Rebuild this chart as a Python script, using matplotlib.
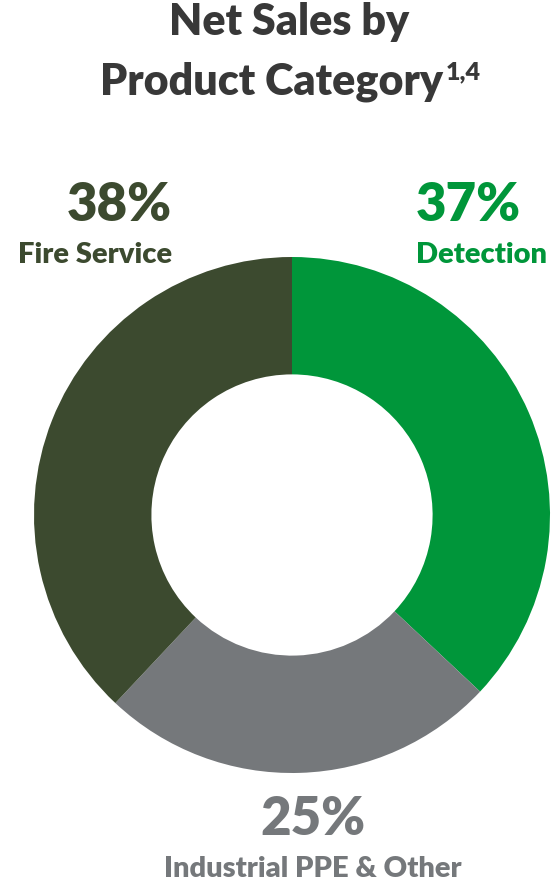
import matplotlib
matplotlib.use("Agg")
import matplotlib.pyplot as plt

# data
labels = ["Detection", "Industrial PPE & Other", "Fire Service"]
shares = [37, 25, 38]
colors = ["#00963A", "#75787B", "#3C4A2F"]

W, H = 552, 894
plt.rcParams["font.family"] = ["Lato", "DejaVu Sans"]
fig = plt.figure(figsize=(W / 100, H / 100), dpi=100)

# donut
cx, cy, r = 292, 515, 258
ax = fig.add_axes([(cx - r) / W, (H - cy - r) / H, 2 * r / W, 2 * r / H])
ax.pie(shares, colors=colors, startangle=90, counterclock=False, radius=1,
       wedgeprops=dict(width=0.455, linewidth=0))
ax.set_xlim(-1, 1)
ax.set_ylim(-1, 1)
ax.set_aspect("equal")
ax.axis("off")


def px(x, y):
    return x / W, 1 - y / H


wt = "heavy"
title_col = "#383838"
fig.text(*px(289, 35), "Net Sales by", ha="center", va="baseline",
         fontsize=31, fontweight=wt, color=title_col)
t2 = fig.text(*px(100, 94), "Product Category", ha="left", va="baseline",
              fontsize=31, fontweight=wt, color=title_col)
fig.canvas.draw()
bb = t2.get_window_extent()
fig.text(bb.x1 / W + 3 / W, 1 - 79 / H, "1,4", ha="left", va="baseline",
         fontsize=18, fontweight=wt, color=title_col)

# labels
pos = {
    "Fire Service": (172, 221, 263, "right"),
    "Detection": (416, 221, 263, "left"),
    "Industrial PPE & Other": (313, 835, 877, "center"),
}
for lab, val, col in zip(labels, shares, colors):
    x, yp, yl, ha = pos[lab]
    fig.text(*px(x, yp), f"{val}%", ha=ha, va="baseline", fontsize=38,
             fontweight=wt, color=col)
    fig.text(*px(x, yl), lab, ha=ha, va="baseline", fontsize=21,
             fontweight=wt, color=col)

fig.savefig("out.png", dpi=100, facecolor="white")
